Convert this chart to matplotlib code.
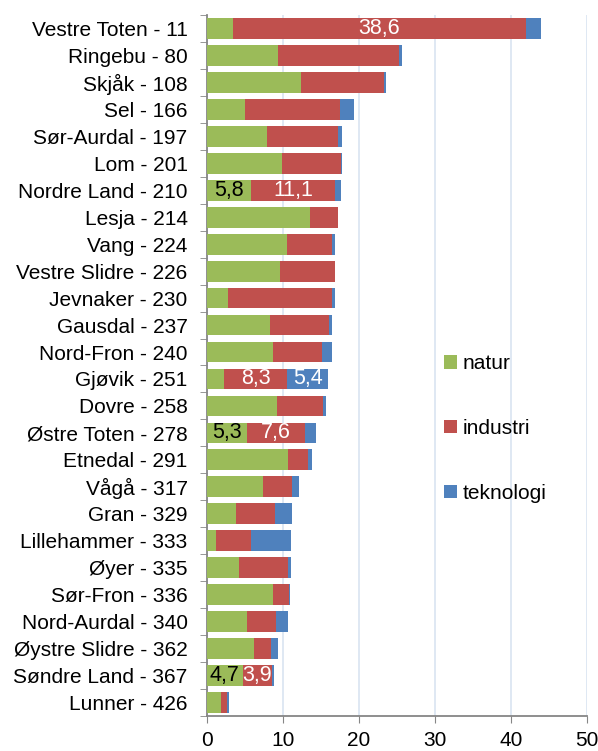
import numpy as np
import matplotlib.pyplot as plt

plt.rcParams["font.family"] = ["Liberation Sans", "DejaVu Sans"]

kommuner = [
    "Vestre Toten - 11", "Ringebu - 80", "Skjåk - 108", "Sel - 166",
    "Sør-Aurdal - 197", "Lom - 201", "Nordre Land - 210", "Lesja - 214",
    "Vang - 224", "Vestre Slidre - 226", "Jevnaker - 230", "Gausdal - 237",
    "Nord-Fron - 240", "Gjøvik - 251", "Dovre - 258", "Østre Toten - 278",
    "Etnedal - 291", "Vågå - 317", "Gran - 329", "Lillehammer - 333",
    "Øyer - 335", "Sør-Fron - 336", "Nord-Aurdal - 340", "Øystre Slidre - 362",
    "Søndre Land - 367", "Lunner - 426",
]
natur = [3.4, 9.4, 12.35, 5.05, 7.9, 9.9, 5.8, 13.5, 10.5, 9.6, 2.7, 8.35,
         8.7, 2.24, 9.15, 5.3, 10.6, 7.4, 3.75, 1.15, 4.15, 8.65, 5.3, 6.2,
         4.7, 1.9]
industri = [38.6, 15.8, 11.0, 12.5, 9.35, 7.75, 11.1, 3.7, 6.0, 7.2, 13.8,
            7.75, 6.45, 8.3, 6.15, 7.6, 2.7, 3.8, 5.2, 4.65, 6.45, 2.1, 3.8,
            2.2, 3.9, 0.7]
teknologi = [2.0, 0.5, 0.2, 1.8, 0.57, 0.13, 0.7, 0.1, 0.35, 0.08, 0.3, 0.4,
             1.27, 5.4, 0.35, 1.4, 0.48, 0.88, 2.3, 5.3, 0.4, 0.22, 1.62, 0.92,
             0.17, 0.35]

# labels shown inside bars (index -> text)
natur_lbl = {6: "5,8", 15: "5,3", 24: "4,7"}
industri_lbl = {0: "38,6", 6: "11,1", 13: "8,3", 15: "7,6", 24: "3,9"}
teknologi_lbl = {13: "5,4"}

GREEN = "#9BBB59"
RED = "#C0504D"
BLUE = "#4F81BD"
FS = 15

fig = plt.figure(figsize=(5.98, 7.51), dpi=100)
ax = fig.add_axes([207 / 598, 35 / 751, 380 / 598, 701 / 751])

y = np.arange(len(kommuner))
natur = np.array(natur)
industri = np.array(industri)
teknologi = np.array(teknologi)
h = 0.77

b1 = ax.barh(y, natur, height=h, color=GREEN, label="natur", zorder=3)
b2 = ax.barh(y, industri, left=natur, height=h, color=RED, label="industri", zorder=3)
b3 = ax.barh(y, teknologi, left=natur + industri, height=h, color=BLUE,
             label="teknologi", zorder=3)

ax.bar_label(b1, labels=[natur_lbl.get(i, "") for i in y], label_type="center",
             color="black", fontsize=FS + 0.5)
ax.bar_label(b2, labels=[industri_lbl.get(i, "") for i in y], label_type="center",
             color="white", fontsize=FS + 0.5)
ax.bar_label(b3, labels=[teknologi_lbl.get(i, "") for i in y], label_type="center",
             color="white", fontsize=FS + 0.5)

ax.set_xlim(0, 50)
ax.set_ylim(len(kommuner) - 0.5, -0.5)
ax.set_xticks(range(0, 51, 10))
ax.set_yticks(y)
ax.set_yticklabels(kommuner)
ax.set_yticks(np.arange(-0.5, len(kommuner), 1), minor=True)
ax.tick_params(axis="y", which="major", length=0, pad=14, labelsize=FS)
ax.tick_params(axis="y", which="minor", length=5, color="#868686")
ax.tick_params(axis="x", length=5, color="#868686", labelsize=FS, pad=6)

ax.grid(axis="x", color="#DCE6F2", linewidth=1.3, zorder=0)
for s in ["top", "right"]:
    ax.spines[s].set_visible(False)
for s in ["left", "bottom"]:
    ax.spines[s].set_color("#868686")
    ax.spines[s].set_linewidth(1.3)

ax.legend(loc="center left", bbox_to_anchor=(0.575, 0.41), frameon=False,
          fontsize=FS, handlelength=0.6, handleheight=0.6, handletextpad=0.3,
          labelspacing=2.2)

fig.savefig("out.png", dpi=100)
